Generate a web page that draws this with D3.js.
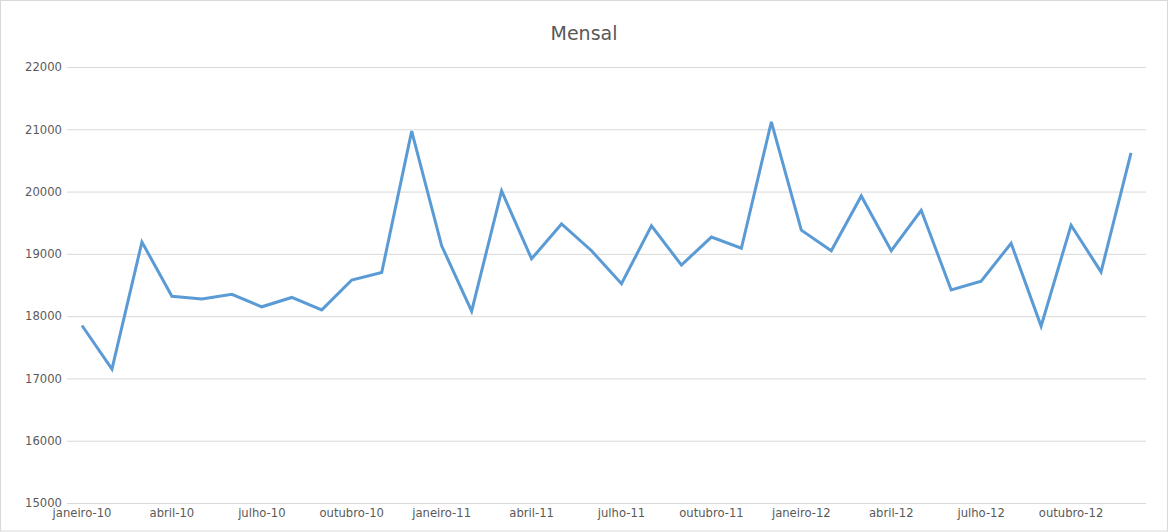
<!DOCTYPE html>
<html><head><meta charset="utf-8">
<script src="https://cdn.jsdelivr.net/npm/d3@7"></script>
<style>body{margin:0;background:#fff}svg{display:block}</style>
</head><body>
<script>
const months = ["janeiro","fevereiro","março","abril","maio","junho","julho","agosto","setembro","outubro","novembro","dezembro"];
const years = ["10","11","12"];
const categories = years.flatMap(y => months.map(m => m + "-" + y));
const values = [17850,17150,19190,18320,18275,18350,18150,18300,18100,18580,18700,20970,
                19130,18080,20010,18920,19480,19050,18520,19450,18820,19270,19090,21120,
                19380,19050,19930,19050,19700,18420,18560,19170,17840,19460,18710,20620];
const yTicks = [15000,16000,17000,18000,19000,20000,21000,22000];
const title = "Mensal";

const W = 1170, H = 532;
const svg = d3.select("body").append("svg").attr("width", W).attr("height", H);
svg.append("rect").attr("x",0.5).attr("y",0.5).attr("width",W-3).attr("height",H-1.5)
  .attr("fill","#fff").attr("stroke","#d9d9d9");

const left = 67, right = 1146;
const x = d3.scaleBand().domain(categories).range([left,right]);
const cx = d => x(d) + x.bandwidth()/2;
const y = d3.scaleLinear().domain([15000,22000]).range([503,67]);
const font = "DejaVu Sans, sans-serif";
const txt = "#595959";

const yAxis = d3.axisLeft(y).tickValues(yTicks).tickSize(-(right-left)).tickPadding(5).tickFormat(d3.format("d"));
const gy = svg.append("g").attr("transform",`translate(${left},0)`).call(yAxis);
gy.select(".domain").remove();
gy.selectAll(".tick line").attr("stroke","#d9d9d9");
gy.selectAll(".tick text").attr("fill",txt).style("font-family",font).style("font-size","11.6px");

const xAxis = d3.axisBottom(x).tickValues(categories.filter((d,i)=>i%3===0)).tickSize(0).tickPadding(6);
const gx = svg.append("g").attr("transform","translate(0,503)").call(xAxis);
gx.select(".domain").remove();
gx.selectAll(".tick text").attr("fill",txt).style("font-family",font).style("font-size","11.6px");

svg.append("path").datum(values)
  .attr("fill","none").attr("stroke","#5b9bd5").attr("stroke-width",3).attr("stroke-linejoin","miter")
  .attr("d", d3.line().x((d,i)=>cx(categories[i])).y(d=>y(d)));

svg.append("text").attr("x",584).attr("y",40).attr("text-anchor","middle")
  .attr("fill",txt).style("font-family",font).style("font-size","19px").text(title);
</script>
</body></html>
